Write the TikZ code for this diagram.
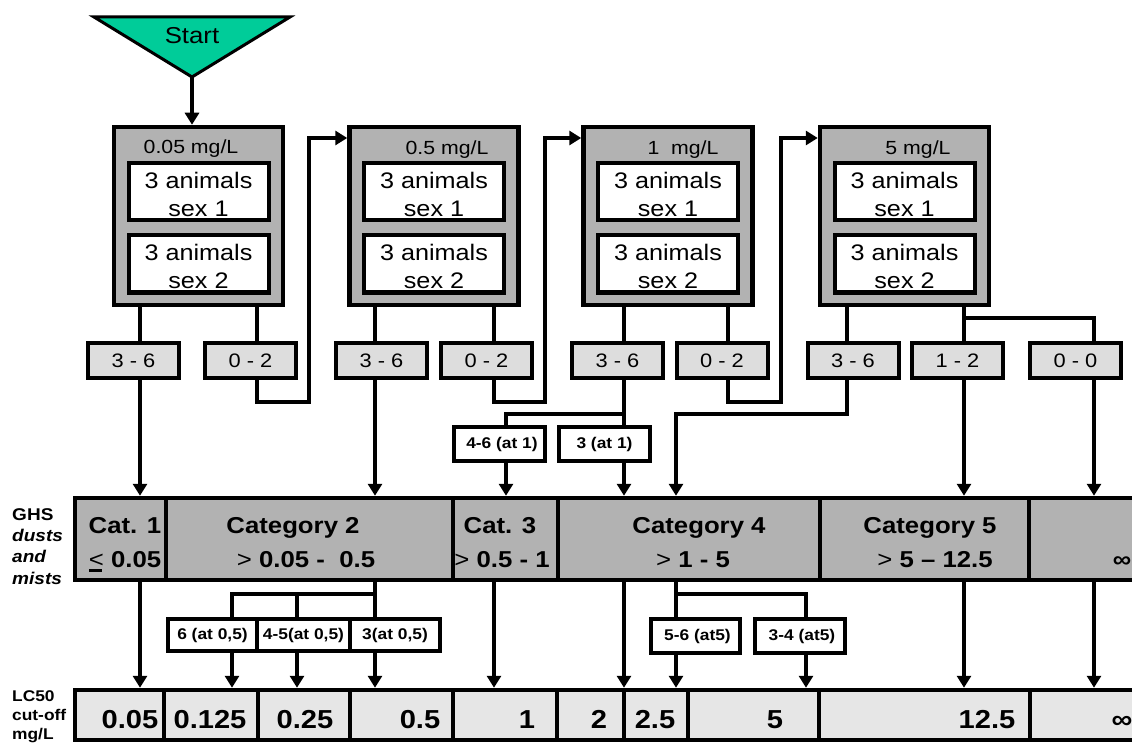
\documentclass[tikz,border=0pt]{standalone}
\usepackage{fontspec}
\setmainfont{Liberation Sans}[FakeStretch=1.12]
\usetikzlibrary{arrows.meta}
\definecolor{startgreen}{HTML}{00CC99}
\definecolor{boxgray}{HTML}{B2B2B2}
\definecolor{resgray}{HTML}{DDDDDD}
\definecolor{lcgray}{HTML}{E6E6E6}
\newcommand{\fsz}[1]{\fontsize{#1}{#1}\selectfont}
\tikzset{
  line/.style={line width=3.5pt},
  arr/.style={line width=3.5pt,-{Triangle[width=14pt,length=12pt]}},
  ctr/.style={font=\fsz{#1},inner sep=0pt,anchor=base,yshift={-0.358*#1pt}},
  ctrw/.style={font=\fsz{#1},inner sep=0pt,anchor=base west,yshift={-0.358*#1pt}},
  testbox/.style={draw,line width=4.5pt,fill=boxgray,minimum width=169pt,minimum height=178pt,inner sep=0pt},
  animal/.style={draw,line width=4pt,fill=white,minimum width=140pt,minimum height=57pt,inner sep=0pt},
  animaltxt/.style={inner sep=0pt,align=center,font=\fontsize{22.5}{28}\selectfont},
  mglab/.style={ctr=19},
  resbox/.style={draw,line width=4pt,fill=resgray,minimum height=35pt,minimum width=91pt,inner sep=0pt,font=\fsz{19.5}},
  smallbox/.style={draw,line width=4pt,fill=white,minimum height=34pt,inner sep=0pt,font=\fsz{15.5}\bfseries},
  catcell/.style={draw,line width=4.5pt,fill=boxgray,minimum height=82pt,inner sep=0pt},
  lccell/.style={draw,line width=4.5pt,fill=lcgray,minimum height=50pt,inner sep=0pt},
  cattxt/.style={ctr=23,font=\fsz{23}\bfseries},
  lctxt/.style={ctr=26,font=\fsz{26}\bfseries},
  side/.style={ctrw=17,font=\fsz{17}\bfseries},
  sidetwo/.style={ctrw=15.5,font=\fsz{15.5}\bfseries},
}
\newcommand{\gt}{{\mdseries >}\ }
\begin{document}
\begin{tikzpicture}[x=1pt,y=-1pt]
\clip (0,0) rectangle (1132,743);
\fill[white] (0,0) rectangle (1132,743);

% start
\draw[line width=3pt,fill=startgreen,line join=miter] (94,17) -- (290,17) -- (192,77) -- cycle;
\node[ctr=23] (start) at (192,35) {Start};
\coordinate (apex) at (192,77);

% test boxes
\node[testbox] (b1) at (198.5,216) {};
\node[testbox] (b2) at (434,216) {};
\node[testbox] (b3) at (668,216) {};
\node[testbox] (b4) at (904.5,216) {};
\node[mglab] (m1) at (191,147) {0.05 mg/L};
\node[mglab] (m2) at (447,148) {0.5 mg/L};
\node[mglab] (m3) at (683,148) {1\ \ mg/L};
\node[mglab] (m4) at (918,148) {5 mg/L};
\node[animal] (a1) at (198.5,191.5) {};
\node[animal] (a2) at (198.5,264) {};
\node[animal] (a3) at (434,191.5) {};
\node[animal] (a4) at (434,264) {};
\node[animal] (a5) at (668,191.5) {};
\node[animal] (a6) at (668,264) {};
\node[animal] (a7) at (904.5,191.5) {};
\node[animal] (a8) at (904.5,264) {};
\node[animaltxt] (a1t) at ([yshift=-2.5pt]a1.center) {3 animals\\sex 1};
\node[animaltxt] (a2t) at ([yshift=-2.5pt]a2.center) {3 animals\\sex 2};
\node[animaltxt] (a3t) at ([yshift=-2.5pt]a3.center) {3 animals\\sex 1};
\node[animaltxt] (a4t) at ([yshift=-2.5pt]a4.center) {3 animals\\sex 2};
\node[animaltxt] (a5t) at ([yshift=-2.5pt]a5.center) {3 animals\\sex 1};
\node[animaltxt] (a6t) at ([yshift=-2.5pt]a6.center) {3 animals\\sex 2};
\node[animaltxt] (a7t) at ([yshift=-2.5pt]a7.center) {3 animals\\sex 1};
\node[animaltxt] (a8t) at ([yshift=-2.5pt]a8.center) {3 animals\\sex 2};

% result boxes
\node[resbox] (r1a) at (133.5,360.5) {3 - 6};
\node[resbox] (r1b) at (250.5,360.5) {0 - 2};
\node[resbox] (r2a) at (381.5,360.5) {3 - 6};
\node[resbox] (r2b) at (486.5,360.5) {0 - 2};
\node[resbox] (r3a) at (617.5,360.5) {3 - 6};
\node[resbox] (r3b) at (722,360.5) {0 - 2};
\node[resbox] (r4a) at (853,360.5) {3 - 6};
\node[resbox] (r4b) at (957.5,360.5) {1 - 2};
\node[resbox] (r4c) at (1075.5,360.5) {0 - 0};

% small boxes at 1 mg/L
\node[smallbox,minimum width=91pt] (k1) at (499.5,444) {\hspace{5pt}4-6 (at 1)};
\node[smallbox,minimum width=91pt] (k2) at (604.5,444) {3 (at 1)};

% GHS category row
\node[catcell,minimum width=91pt] (c1) at (120.5,539) {};
\node[catcell,minimum width=287pt] (c2) at (309.5,539) {};
\node[catcell,minimum width=105pt] (c3) at (505.5,539) {};
\node[catcell,minimum width=262pt] (c4) at (689,539) {};
\node[catcell,minimum width=209pt] (c5) at (924.5,539) {};
\node[catcell,minimum width=121pt] (c6) at (1089.5,539) {};
\node[cattxt] (t1a) at (125,525) {Cat. 1};
\node[cattxt] (t1b) at (125,559) {{\mdseries\makebox[0pt][l]{\rule[-0.2em]{0.58em}{0.12em}}<}\ 0.05};
\node[cattxt] (t2a) at (293,525) {Category 2};
\node[cattxt] (t2b) at (306,559) {\gt 0.05 -\ \ 0.5};
\node[cattxt] (t3a) at (500,525) {Cat. 3};
\node[cattxt] (t3b) at (502,559) {\gt 0.5 - 1};
\node[cattxt] (t4a) at (699,525) {Category 4};
\node[cattxt] (t4b) at (693,559) {\gt 1 - 5};
\node[cattxt] (t5a) at (930,525) {Category 5};
\node[cattxt] (t5b) at (935,559) {\gt 5 – 12.5};
\node[cattxt] (t6b) at (1122,559) {∞};

% small boxes at 0,5 and 5 mg/L
\node[smallbox,minimum width=89pt,minimum height=32pt] (p1) at (212.5,635) {6 (at 0,5)};
\node[smallbox,minimum width=93pt,minimum height=32pt] (p2) at (303.5,635) {4-5(at 0,5)};
\node[smallbox,minimum width=90pt,minimum height=32pt] (p3) at (395,635) {3(at 0,5)};
\node[smallbox,minimum width=89pt] (q1) at (695.5,636) {\hspace{4pt}5-6 (at5)};
\node[smallbox,minimum width=90pt] (q2) at (800,636) {\hspace{4pt}3-4 (at5)};

% LC50 row
\node[lccell,minimum width=89pt] (l1) at (119.5,715) {};
\node[lccell,minimum width=94pt] (l2) at (211,715) {};
\node[lccell,minimum width=92pt] (l3) at (304,715) {};
\node[lccell,minimum width=103pt] (l4) at (401.5,715) {};
\node[lccell,minimum width=104pt] (l5) at (505,715) {};
\node[lccell,minimum width=67pt] (l6) at (590.5,715) {};
\node[lccell,minimum width=64pt] (l7) at (656,715) {};
\node[lccell,minimum width=131pt] (l8) at (753.5,715) {};
\node[lccell,minimum width=211pt] (l9) at (924.5,715) {};
\node[lccell,minimum width=120pt] (l10) at (1090,715) {};
\node[lctxt] (v1t) at (130,719) {0.05};
\node[lctxt] (v2t) at (210,719) {0.125};
\node[lctxt] (v3t) at (305,719) {0.25};
\node[lctxt] (v4t) at (420,719) {0.5};
\node[lctxt] (v5t) at (527,719) {1};
\node[lctxt] (v6t) at (599,719) {2};
\node[lctxt] (v7t) at (655,719) {2.5};
\node[lctxt] (v8t) at (775,719) {5};
\node[lctxt] (v9t) at (987,719) {12.5};
\node[lctxt] (v10t) at (1122,719) {∞};

% side labels
\node[side] (g1) at (12,514) {GHS};
\node[side] (g2) at (12,535) {\itshape dusts};
\node[side] (g3) at (12,556) {\itshape and};
\node[side] (g4) at (12,578) {\itshape mists};
\node[sidetwo] (h1) at (12,696) {LC50};
\node[sidetwo] (h2) at (12,715) {cut-off};
\node[sidetwo] (h3) at (12,734) {mg/L};

% helper coordinates
\coordinate (tp) at (0,138);
\coordinate (lb) at (0,402);
\coordinate (j1) at (0,414);
\coordinate (j0) at (0,318);
\coordinate (j2) at (0,594);
\coordinate (x1) at (140,0);
\coordinate (x2) at (257,0);
\coordinate (x3) at (375,0);
\coordinate (x4) at (494,0);
\coordinate (x5) at (624,0);
\coordinate (x6) at (728,0);
\coordinate (x7) at (847,0);
\coordinate (x8) at (964,0);
\coordinate (x9) at (1094,0);
\coordinate (x10) at (506,0);
\coordinate (x11) at (676,0);
\coordinate (x13) at (232,0);
\coordinate (x14) at (297,0);
\coordinate (x15) at (806,0);
\coordinate (u1) at (309,0);
\coordinate (u2) at (545,0);
\coordinate (u3) at (781,0);

% connectors
\draw[arr] (apex) -- (apex |- b1.north);
\draw[line] (x1 |- b1.south) -- (x1 |- r1a.north);
\draw[arr] (x1 |- r1a.south) -- (x1 |- c1.north);
\draw[line] (x2 |- b1.south) -- (x2 |- r1b.north);
\draw[arr] (x2 |- r1b.south) |- (u1 |- lb) |- (b2.west |- tp);
\draw[line] (x3 |- b2.south) -- (x3 |- r2a.north);
\draw[arr] (x3 |- r2a.south) -- (x3 |- c2.north);
\draw[line] (x4 |- b2.south) -- (x4 |- r2b.north);
\draw[arr] (x4 |- r2b.south) |- (u2 |- lb) |- (b3.west |- tp);
\draw[line] (x5 |- b3.south) -- (x5 |- r3a.north);
\draw[line] (x5 |- r3a.south) -- (x5 |- k2.north);
\draw[line] (x5 |- j1) -| (x10 |- k1.north);
\draw[arr] (x10 |- k1.south) -- (x10 |- c3.north);
\draw[arr] (x5 |- k2.south) -- (x5 |- c4.north);
\draw[line] (x6 |- b3.south) -- (x6 |- r3b.north);
\draw[arr] (x6 |- r3b.south) |- (u3 |- lb) |- (b4.west |- tp);
\draw[line] (x7 |- b4.south) -- (x7 |- r4a.north);
\draw[arr] (x7 |- r4a.south) |- (x11 |- j1) -- (x11 |- c4.north);
\draw[line] (x8 |- b4.south) -- (x8 |- r4b.north);
\draw[line] (x8 |- j0) -| (x9 |- r4c.north);
\draw[arr] (x8 |- r4b.south) -- (x8 |- c5.north);
\draw[arr] (x9 |- r4c.south) -- (x9 |- c6.north);

\draw[arr] (x1 |- c1.south) -- (x1 |- l1.north);
\draw[line] (x3 |- c2.south) -- (x3 |- p3.north);
\draw[line] (x3 |- j2) -| (x13 |- p1.north);
\draw[line] (x14 |- j2) -- (x14 |- p2.north);
\draw[arr] (x13 |- p1.south) -- (x13 |- l2.north);
\draw[arr] (x14 |- p2.south) -- (x14 |- l3.north);
\draw[arr] (x3 |- p3.south) -- (x3 |- l4.north);
\draw[arr] (x4 |- c3.south) -- (x4 |- l5.north);
\draw[arr] (x5 |- c4.south) -- (x5 |- l6.north);
\draw[line] (x11 |- c4.south) -- (x11 |- q1.north);
\draw[line] (x11 |- j2) -| (x15 |- q2.north);
\draw[arr] (x11 |- q1.south) -- (x11 |- l7.north);
\draw[arr] (x15 |- q2.south) -- (x15 |- l8.north);
\draw[arr] (x8 |- c5.south) -- (x8 |- l9.north);
\draw[arr] (x9 |- c6.south) -- (x9 |- l10.north);
\end{tikzpicture}
\end{document}
